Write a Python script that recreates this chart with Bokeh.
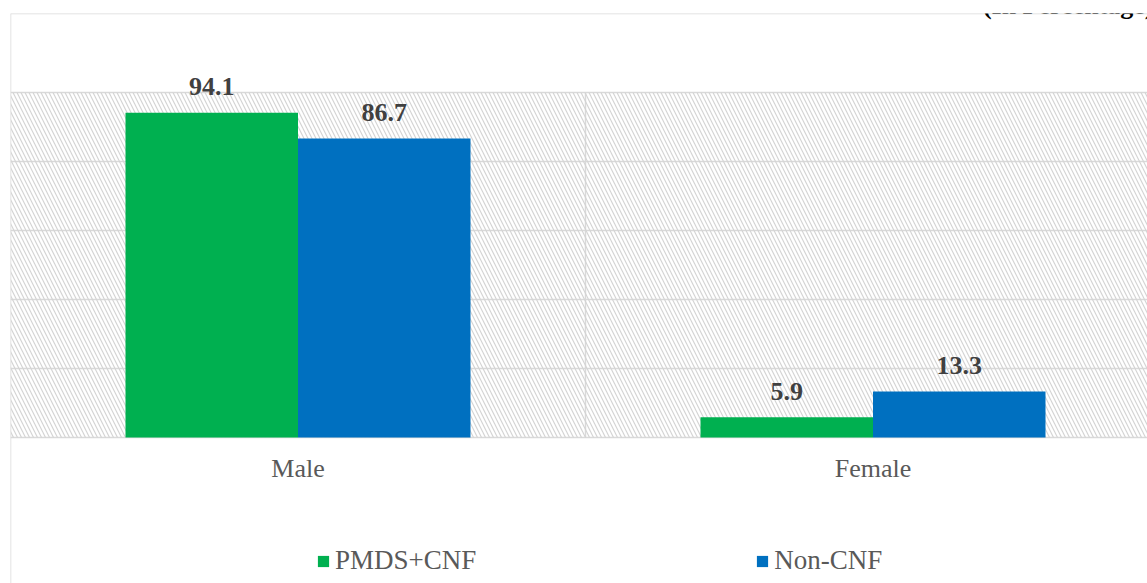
from bokeh.plotting import figure
from bokeh.models import (ColumnDataSource, Range1d, FixedTicker, BoxAnnotation, Span,
                          Legend, LegendItem, Label)
from bokeh.transform import dodge
from bokeh.core.properties import value
from bokeh.embed import file_html
from bokeh.resources import INLINE

categories = ["Male", "Female"]
series_names = ["PMDS+CNF", "Non-CNF"]
pmds_cnf = [94.1, 5.9]
non_cnf = [86.7, 13.3]
colors = ["#00B050", "#0070C0"]
y_ticks = [0, 20, 40, 60, 80, 100]
unit_note = "(In Percentage)"

xpos = [i + 0.5 for i in range(len(categories))]
src = ColumnDataSource(dict(
    x=xpos, a=pmds_cnf, b=non_cnf,
    at=[f"{v:.1f}" for v in pmds_cnf], bt=[f"{v:.1f}" for v in non_cnf],
))

W, H = 1147, 583
left = 10
frame_top = 13
zero_px = 437
px_per_unit = 3.45
y_start = -(H - zero_px) / px_per_unit
y_end = (zero_px - frame_top) / px_per_unit
cat_px = 575.0
x_end = (W - left) / cat_px

p = figure(width=W, height=H, output_backend="svg", toolbar_location=None,
           x_range=Range1d(0, x_end), y_range=Range1d(y_start, y_end),
           min_border_left=left, min_border_right=0, min_border_top=frame_top,
           min_border_bottom=0)
p.outline_line_color = None
p.background_fill_color = "white"
p.border_fill_color = "white"

# left border of the chart area (axis line only)
yax = p.yaxis[0]
yax.fixed_location = 0
yax.axis_line_color = "#d9d9d9"
yax.axis_line_width = 1.5
yax.major_tick_line_color = None
yax.minor_tick_line_color = None
yax.major_label_text_alpha = 0
yax.ticker = FixedTicker(ticks=[])

# hatched plot-area background
p.add_layout(BoxAnnotation(bottom=0, top=max(y_ticks), fill_alpha=0, line_color=None,
                           hatch_pattern="\\", hatch_color="#d4d4d4", hatch_scale=8,
                           hatch_weight=1.2, level="underlay"))
# top border of the chart area
p.add_layout(Span(location=y_end, dimension="width", line_color="#d9d9d9", line_width=1.5))

p.ygrid.ticker = FixedTicker(ticks=y_ticks)
p.ygrid.grid_line_color = "#d9d9d9"
p.ygrid.grid_line_width = 1.5
p.xgrid.ticker = FixedTicker(ticks=[1])
p.xgrid.grid_line_color = "#d9d9d9"
p.xgrid.grid_line_width = 1.5
p.xgrid.cross_bounds = (0, max(y_ticks))

r1 = p.vbar(x=dodge("x", -0.15, range=p.x_range), top="a", width=0.3, source=src,
            fill_color=colors[0], line_color=None)
r2 = p.vbar(x=dodge("x", 0.15, range=p.x_range), top="b", width=0.3, source=src,
            fill_color=colors[1], line_color=None)

for col, off in (("a", -0.15), ("b", 0.15)):
    p.text(x=dodge("x", off, range=p.x_range), y=col, text=col + "t", source=src,
           text_align="center", text_baseline="alphabetic", y_offset=-26,
           text_font=value("Liberation Serif"), text_font_style="bold",
           text_font_size="26px", text_color="#404040")

ax = p.xaxis[0]
ax.fixed_location = 0
ax.ticker = FixedTicker(ticks=xpos)
ax.major_label_overrides = {x: c for x, c in zip(xpos, categories)}
ax.axis_line_color = None
ax.major_tick_line_color = None
ax.minor_tick_line_color = None
ax.major_tick_out = 0
ax.major_label_standoff = 16
ax.major_label_text_font = "Liberation Serif"
ax.major_label_text_font_size = "26px"
ax.major_label_text_color = "#595959"

legend = Legend(items=[LegendItem(label=series_names[0], renderers=[r1]),
                       LegendItem(label=series_names[1], renderers=[r2])],
                orientation="horizontal", location=(306, 7),
                glyph_width=14, glyph_height=14, label_standoff=5, spacing=279,
                padding=0, margin=0, border_line_color=None, background_fill_alpha=0,
                label_text_font="Liberation Serif", label_text_font_size="27px",
                label_text_color="#595959")
p.add_layout(legend, "center")

p.add_layout(Label(x=x_end, y=y_end, x_offset=6, y_offset=8, text=unit_note,
                   text_align="right", text_baseline="alphabetic",
                   text_font="Liberation Serif", text_font_style="bold",
                   text_font_size="26px", text_color="black"))

open("out.html", "w").write(file_html(p, INLINE))
